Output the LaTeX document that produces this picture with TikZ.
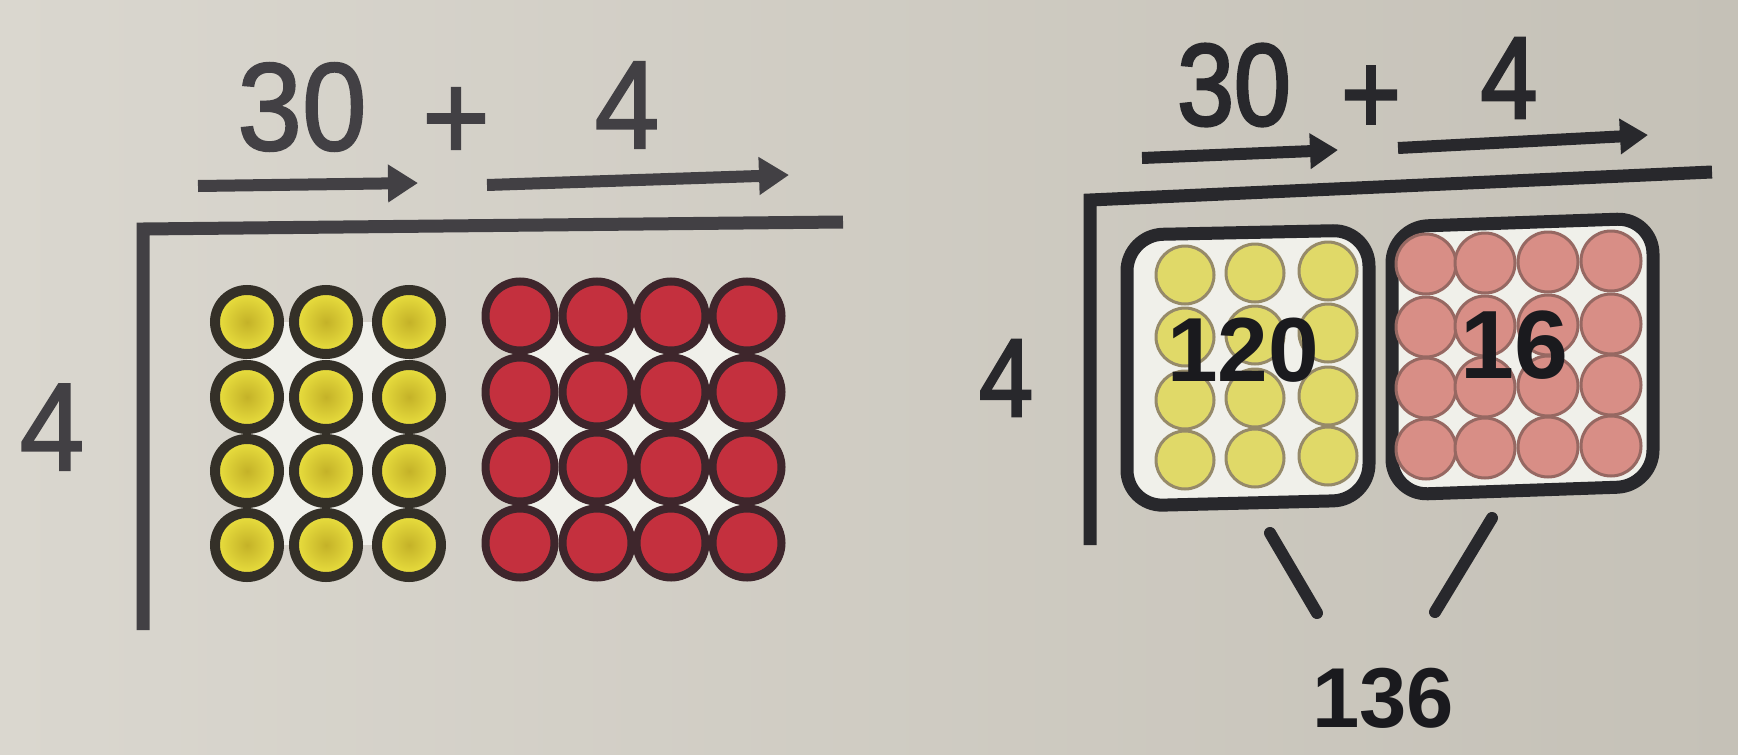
\documentclass[tikz,border=0pt]{standalone}
\usepackage{fontspec}
\setmainfont{Liberation Sans}
\newfontfamily\medsans[FakeBold=1.6]{Liberation Sans}
\newfontfamily\heavysans[FakeBold=2.6]{Liberation Sans}
\usetikzlibrary{arrows.meta}
\definecolor{bgL}{RGB}{218,215,207}
\definecolor{bgR}{RGB}{197,193,183}
\definecolor{inkL}{RGB}{66,64,68}
\definecolor{inkR}{RGB}{40,40,44}
\definecolor{numInk}{RGB}{26,26,30}
\definecolor{paper}{RGB}{240,240,234}
\definecolor{ringDark}{RGB}{52,48,40}
\definecolor{yBright}{RGB}{236,226,64}
\definecolor{yDot}{RGB}{196,178,40}
\definecolor{redFill}{RGB}{196,48,62}
\definecolor{redRing}{RGB}{62,38,44}
\definecolor{paleY}{RGB}{224,217,104}
\definecolor{paleYRing}{RGB}{150,138,105}
\definecolor{pinkFill}{RGB}{216,142,134}
\definecolor{pinkRing}{RGB}{150,104,98}
\begin{document}
\begin{tikzpicture}[x=1pt,y=-1pt,
  numL/.style={inner sep=0pt, text=inkL, xscale=0.93, font=\medsans\fontsize{125}{125}\selectfont},
  numR/.style={inner sep=0pt, text=inkR, xscale=0.88, font=\heavysans\fontsize{116}{116}\selectfont},
  boldnum/.style={inner sep=0pt, text=numInk, font=\bfseries\fontsize{#1}{#1}\selectfont},
  barL/.style={draw=inkL, line width=13pt, line join=miter},
  barR/.style={draw=inkR, line width=13pt, line join=miter},
  arrL/.style={draw=inkL, line width=12pt, -{Triangle[length=30pt,width=36pt]}},
  arrR/.style={draw=inkR, line width=12pt, -{Triangle[length=28pt,width=34pt]}},
  ycircL/.style={circle, inner sep=0pt, minimum size=64pt, draw=ringDark, line width=10pt, inner color=yDot, outer color=yBright},
  rcircL/.style={circle, inner sep=0pt, minimum size=69pt, draw=redRing, line width=8pt, fill=redFill},
  ycircR/.style={circle, inner sep=0pt, minimum size=58pt, draw=paleYRing, line width=3pt, fill=paleY},
  pcircR/.style={circle, inner sep=0pt, minimum size=60pt, draw=pinkRing, line width=3pt, fill=pinkFill},
  groupbox/.style={draw=inkR, line width=13pt, rounded corners=36pt, fill=paper},
  legline/.style={draw=inkR, line width=12pt, line cap=round}]
\useasboundingbox (0,0) rectangle (1738,755);
\shade[left color=bgL, right color=bgR] (0,0) rectangle (1738,755);

% ---------------- left panel ----------------
\node[numL] (lthirty) at (302,107) {30};
\node[numL] (lplus) at (456,124) {+};
\node[numL] (lfour) at (627,105) {4};
\node[numL] (lside) at (52,427) {4};

\coordinate (lvb) at (143,630);
\coordinate (lcorner) at (143,229);
\coordinate (lbe) at (843,222);
\draw[barL] (lvb) -- (lcorner) -- (lbe);

\coordinate (la1s) at (198,186);
\coordinate (la1e) at (418,183);
\coordinate (la2s) at (487,185);
\coordinate (la2e) at (789,175);
\draw[arrL] (la1s) -- (la1e);
\draw[arrL] (la2s) -- (la2e);

\fill[paper] (247,322) rectangle (409,545);
\fill[paper] (520,316) rectangle (747,543);
\foreach \c/\x in {1/247,2/326,3/409}
  \foreach \r/\y in {1/322,2/397,3/471,4/545}
    \node[ycircL] (ly\c\r) at (\x,\y) {};
\foreach \c/\x in {1/520,2/597,3/671,4/747}
  \foreach \r/\y in {1/316,2/392,3/467,4/543}
    \node[rcircL] (lr\c\r) at (\x,\y) {};

% ---------------- right panel ----------------
\node[numR] (rthirty) at (1234,85) {30};
\node[numR] (rplus) at (1371,100) {+};
\node[numR] (rfour) at (1509,78) {4};
\node[numR, font=\heavysans\fontsize{110}{110}\selectfont] (rside) at (1006,378) {4};

\coordinate (rvb) at (1090,545);
\coordinate (rcorner) at (1090,200);
\coordinate (rbe) at (1712,172);
\draw[barR] (rvb) -- (rcorner) -- (rbe);

\coordinate (ra1s) at (1142,158);
\coordinate (ra1e) at (1338,150);
\coordinate (ra2s) at (1398,148);
\coordinate (ra2e) at (1648,135);
\draw[arrR] (ra1s) -- (ra1e);
\draw[arrR] (ra2s) -- (ra2e);

\coordinate (yb1) at (1127,235);
\coordinate (yb2) at (1369,230);
\coordinate (yb3) at (1369,500);
\coordinate (yb4) at (1127,506);
\draw[groupbox] (yb1) -- (yb2) -- (yb3) -- (yb4) -- cycle;
\coordinate (pb1) at (1392,227);
\coordinate (pb2) at (1653,218);
\coordinate (pb3) at (1653,486);
\coordinate (pb4) at (1392,495);
\draw[groupbox] (pb1) -- (pb2) -- (pb3) -- (pb4) -- cycle;

\foreach \c/\x/\d in {1/1185/0,2/1255/-2,3/1328/-4}
  \foreach \r/\y in {1/275,2/337,3/400,4/460}
    \node[ycircR] (ry\c\r) at (\x,\y+\d) {};
\foreach \c/\x/\d in {1/1426/0,2/1485/-1,3/1548/-2,4/1611/-3}
  \foreach \r/\y in {1/264,2/327,3/388,4/449}
    \node[pcircR] (rp\c\r) at (\x,\y+\d) {};

\node[boldnum=91] (n120) at (1243,350) {120};
\node[boldnum=97] (n16) at (1514,345) {16};
\node[boldnum=85] (n136) at (1383,698) {136};

\coordinate (l1s) at (1270,533);
\coordinate (l1e) at (1317,613);
\coordinate (l2s) at (1492,518);
\coordinate (l2e) at (1435,612);
\draw[legline] (l1s) -- (l1e);
\draw[legline] (l2s) -- (l2e);
\end{tikzpicture}
\end{document}
